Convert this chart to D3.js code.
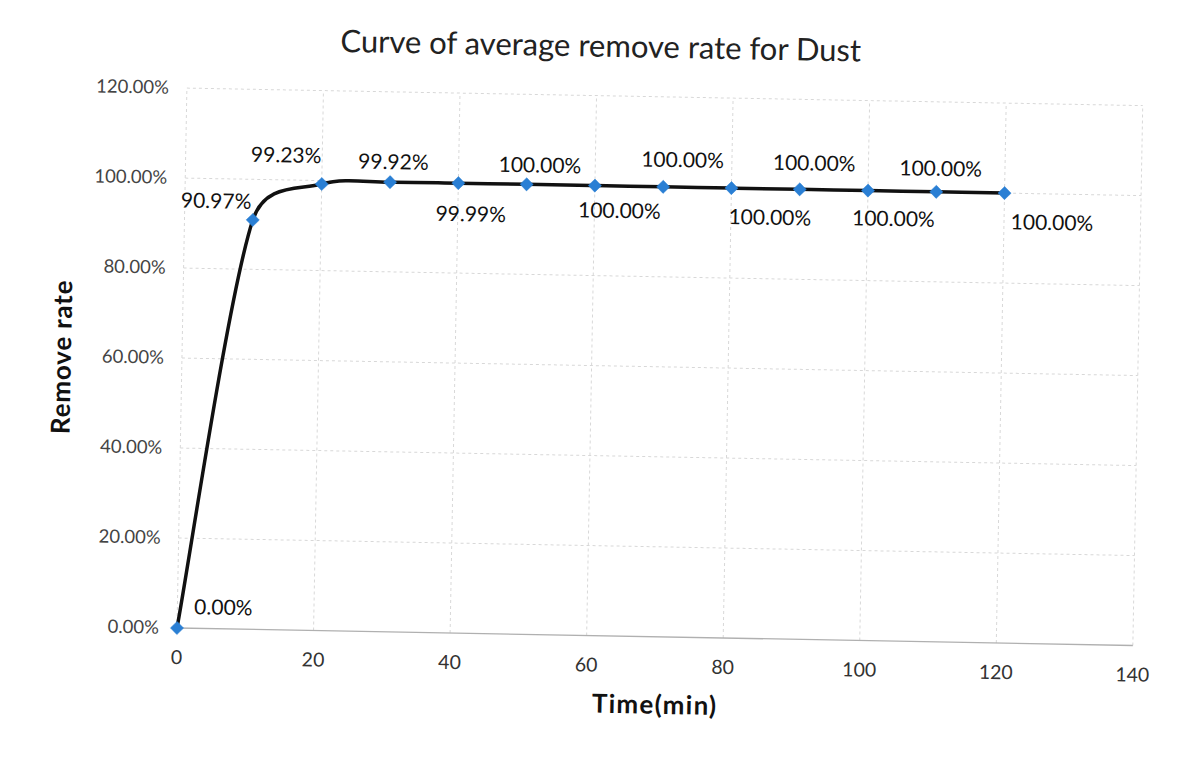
<!DOCTYPE html>
<html>
<head>
<meta charset="utf-8">
<script src="https://cdn.jsdelivr.net/npm/d3@7"></script>
<style>
  html, body { margin: 0; padding: 0; background: #fff; }
  svg { display: block; }
  text { font-family: Lato, "Open Sans", sans-serif; fill: #222; }
</style>
</head>
<body>
<svg id="chart" width="1182" height="761"></svg>
<script>
// ---- data ----
const times = [0, 10, 20, 30, 40, 50, 60, 70, 80, 90, 100, 110, 120];
const removeRate = [0, 90.97, 99.23, 99.92, 99.99, 100, 100, 100, 100, 100, 100, 100, 100];
const xTicks = [0, 20, 40, 60, 80, 100, 120, 140];
const yTicks = [0, 20, 40, 60, 80, 100, 120];
const titleText = "Curve of average remove rate for Dust";
const xTitle = "Time(min)";
const yTitle = "Remove rate";

// label placement (layout only)
const labelOffsets = [[46,-21],[-37,-18],[-36,-28],[3,-20],[13,31],[13,-19],[25,25],[19,-27],[39,29],[14,-26],[26,28],[4,-23],[48,29]];

// ---- layout ----
const ox = 177, oy = 628;          // plot origin
const plotW = 956, plotH = 540;
const angle = 1.05;                // slight scan rotation

// Excel-like smoothing: Catmull-Rom tangents, control arms clamped to half the segment
function excelSmooth(context) {
  let pts = [];
  return {
    areaStart() {}, areaEnd() {},
    lineStart() { pts = []; },
    point(x, y) { pts.push([+x, +y]); },
    lineEnd() {
      const n = pts.length;
      if (!n) return;
      context.moveTo(pts[0][0], pts[0][1]);
      const dist = (a, b) => Math.hypot(b[0] - a[0], b[1] - a[1]);
      const tan = i => {
        const a = pts[Math.max(0, i - 1)], b = pts[Math.min(n - 1, i + 1)];
        return [(b[0] - a[0]) / 6, (b[1] - a[1]) / 6];
      };
      const clamp = (t, maxL) => {
        const l = Math.hypot(t[0], t[1]);
        const k = l > maxL ? maxL / l : 1;
        return [t[0] * k, t[1] * k];
      };
      const c = 0.5;
      for (let i = 0; i < n - 1; i++) {
        const p0 = pts[i], p1 = pts[i + 1];
        const L = dist(p0, p1);
        const t0 = clamp(tan(i), L * c), t1 = clamp(tan(i + 1), L * c);
        context.bezierCurveTo(p0[0] + t0[0], p0[1] + t0[1],
                              p1[0] - t1[0], p1[1] - t1[1], p1[0], p1[1]);
      }
    }
  };
}

const svg = d3.select("#chart");
const g = svg.append("g").attr("transform", `rotate(${angle},${ox},${oy})`);

const x = d3.scaleLinear().domain([0, 140]).range([ox, ox + plotW]);
const y = d3.scaleLinear().domain([0, 120]).range([oy, oy - plotH]);

// gridlines
g.append("g").selectAll("line").data(yTicks.filter(d => d > 0)).join("line")
  .attr("x1", x(0)).attr("x2", x(140))
  .attr("y1", d => y(d)).attr("y2", d => y(d))
  .attr("stroke", "#d8d8d8").attr("stroke-width", 1).attr("stroke-dasharray", "3,3");
g.append("g").selectAll("line").data(xTicks).join("line")
  .attr("x1", d => x(d)).attr("x2", d => x(d))
  .attr("y1", y(0)).attr("y2", y(120))
  .attr("stroke", "#d8d8d8").attr("stroke-width", 1).attr("stroke-dasharray", "3,3");

// x axis line
g.append("line").attr("x1", x(0)).attr("x2", x(140)).attr("y1", y(0)).attr("y2", y(0))
  .attr("stroke", "#b0b0b0").attr("stroke-width", 1.3);

// y tick labels
g.append("g").selectAll("text").data(yTicks).join("text")
  .attr("x", x(0) - 18).attr("y", d => y(d) + 6)
  .attr("text-anchor", "end").attr("font-size", 18.5).style("fill", "#444")
  .text(d => d.toFixed(2) + "%");

// x tick labels
g.append("g").selectAll("text").data(xTicks).join("text")
  .attr("x", d => x(d)).attr("y", y(0) + 36)
  .attr("text-anchor", "middle").attr("font-size", 19.5).style("fill", "#333")
  .text(d => d);

// line
const line = d3.line().x((d, i) => x(times[i])).y(d => y(d)).curve(excelSmooth);
g.append("path").datum(removeRate).attr("d", line)
  .attr("fill", "none").attr("stroke", "#111").attr("stroke-width", 3.5);

// markers
g.append("g").selectAll("path").data(removeRate).join("path")
  .attr("transform", (d, i) => `translate(${x(times[i])},${y(d)})`)
  .attr("d", d3.symbol().type(d3.symbolDiamond2).size(110))
  .attr("fill", "#2a7fd4").attr("stroke", "#2a7fd4").attr("stroke-width", 0.5);

// data labels
g.append("g").selectAll("text").data(removeRate).join("text")
  .attr("x", (d, i) => x(times[i]) + labelOffsets[i][0])
  .attr("y", (d, i) => y(d) + labelOffsets[i][1] + 7)
  .attr("text-anchor", "middle").attr("font-size", 21).style("fill", "#111")
  .text(d => d.toFixed(2) + "%");

// title
g.append("text").attr("x", 590).attr("y", 49).attr("text-anchor", "middle")
  .attr("font-size", 31).style("fill", "#222").text(titleText);

// axis titles
g.append("text").attr("x", 656).attr("y", 705).attr("text-anchor", "middle")
  .attr("font-size", 26).attr("font-weight", "bold").attr("letter-spacing", 1.2).style("fill", "#111").text(xTitle);
g.append("text").attr("transform", "translate(66,359) rotate(-90)").attr("text-anchor", "middle")
  .attr("font-size", 26).attr("font-weight", "bold").attr("letter-spacing", 0.8).style("fill", "#111").text(yTitle);
</script>
</body>
</html>
